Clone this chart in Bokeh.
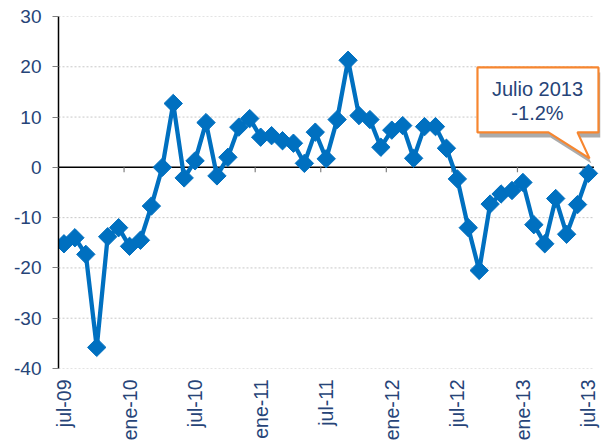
import math
from bokeh.plotting import figure
from bokeh.models import Range1d, FixedTicker, ColumnDataSource
from bokeh.core.properties import value
from bokeh.embed import file_html
from bokeh.resources import INLINE

# ---- data ----
months = ["jul-09", "ago-09", "sep-09", "oct-09", "nov-09", "dic-09",
          "ene-10", "feb-10", "mar-10", "abr-10", "may-10", "jun-10",
          "jul-10", "ago-10", "sep-10", "oct-10", "nov-10", "dic-10",
          "ene-11", "feb-11", "mar-11", "abr-11", "may-11", "jun-11",
          "jul-11", "ago-11", "sep-11", "oct-11", "nov-11", "dic-11",
          "ene-12", "feb-12", "mar-12", "abr-12", "may-12", "jun-12",
          "jul-12", "ago-12", "sep-12", "oct-12", "nov-12", "dic-12",
          "ene-13", "feb-13", "mar-13", "abr-13", "may-13", "jun-13",
          "jul-13"]
values = [-15.2, -14.0, -17.3, -35.8, -13.8, -12.0,
          -15.7, -14.5, -7.7, 0.0, 12.7, -2.1,
          1.3, 8.9, -1.7, 2.0, 8.0, 9.7,
          6.0, 6.3, 5.3, 4.8, 0.8, 7.0,
          1.7, 9.5, 21.3, 10.3, 9.5, 4.0,
          7.4, 8.3, 1.8, 8.1, 8.1, 3.8,
          -2.3, -12.0, -20.5, -7.3, -5.3, -4.6,
          -3.0, -11.4, -15.2, -6.2, -13.3, -7.4,
          -1.2]
label_every = 6
y_ticks = [-40, -30, -20, -10, 0, 10, 20, 30]
y_tick_labels = ["-40", "-30", "-20", "-10", "0", "10", "20", "30"]
callout_lines = ["Julio 2013", "-1.2%"]

# ---- layout ----
W, H = 611, 447
BL, BR, BT, BB = 58, 11, 16, 79
frame_w = W - BL - BR
frame_h = H - BT - BB
x0, x1 = -0.5, 49.1
y0, y1 = -40, 30
ppx = frame_w / (x1 - x0)   # px per x unit
ppy = frame_h / (y1 - y0)   # px per y unit

blue = "#0070C0"
txt = "#264478"
font = "Liberation Sans"

p = figure(width=W, height=H, output_backend="svg", toolbar_location=None,
           x_range=Range1d(x0, x1), y_range=Range1d(y0, y1),
           min_border_left=BL, min_border_right=BR, min_border_top=BT,
           min_border_bottom=BB)
p.outline_line_color = None
p.background_fill_color = "white"
p.border_fill_color = "white"
p.xgrid.visible = False
p.ygrid.visible = False

n = len(values)
xs = list(range(n))
last_x = n - 0.5

# gridlines (dotted), zero line
grid_vals = [t for t in y_ticks if t != 0]
p.segment(x0=[-0.5] * len(grid_vals), x1=[last_x] * len(grid_vals),
          y0=grid_vals, y1=grid_vals, line_color="#C8C8C8",
          line_width=1, line_dash="2 2")
p.segment(x0=[-0.5], x1=[last_x], y0=[0], y1=[0], line_color="black",
          line_width=1.5)
# category boundary ticks on the zero line
bx = [i + 0.5 for i in range(label_every - 1, n, label_every)]
p.segment(x0=bx, x1=bx, y0=[0] * len(bx), y1=[-5 / ppy] * len(bx),
          line_color="#808080", line_width=1.2)

# series
src = ColumnDataSource(dict(x=xs, y=values))
p.line("x", "y", source=src, line_color=blue, line_width=4.3)
p.scatter("x", "y", source=src, marker="square", size=13,
          angle=math.pi / 4, fill_color=blue, line_color=blue)

# y axis
ya = p.yaxis[0]
ya.ticker = FixedTicker(ticks=y_ticks)
ya.major_label_overrides = dict(zip(y_ticks, y_tick_labels))
ya.axis_line_color = "black"
ya.axis_line_width = 1.5
ya.major_tick_line_color = "#808080"
ya.major_tick_out = 6
ya.major_tick_in = 0
ya.minor_tick_line_color = None
ya.major_label_standoff = 11
ya.major_label_text_font = font
ya.major_label_text_font_size = "19px"
ya.major_label_text_color = txt

# x axis
xa = p.xaxis[0]
tick_pos = list(range(0, n, label_every))
xa.ticker = FixedTicker(ticks=tick_pos)
xa.major_label_overrides = {i: months[i] for i in tick_pos}
xa.major_label_orientation = math.pi / 2
xa.axis_line_color = None
xa.major_tick_line_color = None
xa.minor_tick_line_color = None
xa.major_tick_out = 0
xa.major_tick_in = 0
xa.major_label_standoff = 11
xa.major_label_text_font = font
xa.major_label_text_font_size = "19.5px"
xa.major_label_text_color = txt

# ---- callout (pixel offsets relative to last point) ----
ax, ay = xs[-1], values[-1]
shape_px = [(-111, -106), (10, -106), (10, -41), (-11, -41), (1, -15),
            (-40, -41), (-111, -41)]

def to_data(dx, dy, ox=0, oy=0):
    return ax + (dx + ox) / ppx, ay - (dy + oy) / ppy

sh = [to_data(dx, dy, 2, 5) for dx, dy in shape_px]
p.patch([q[0] for q in sh], [q[1] for q in sh], fill_color="#9C9C9C",
        line_color=None, fill_alpha=0.85)
bd = [to_data(dx, dy) for dx, dy in shape_px]
p.patch([q[0] for q in bd], [q[1] for q in bd], fill_color="white",
        line_color="#F7862F", line_width=2.2)
cx, cy1 = to_data(-51, -84)
_, cy2 = to_data(-51, -60)
p.text(x=[cx, cx], y=[cy1, cy2], text=callout_lines, text_align="center",
       text_baseline="middle", text_color=txt,
       text_font=value(font), text_font_size="20px")

open("out.html", "w").write(file_html(p, INLINE))
